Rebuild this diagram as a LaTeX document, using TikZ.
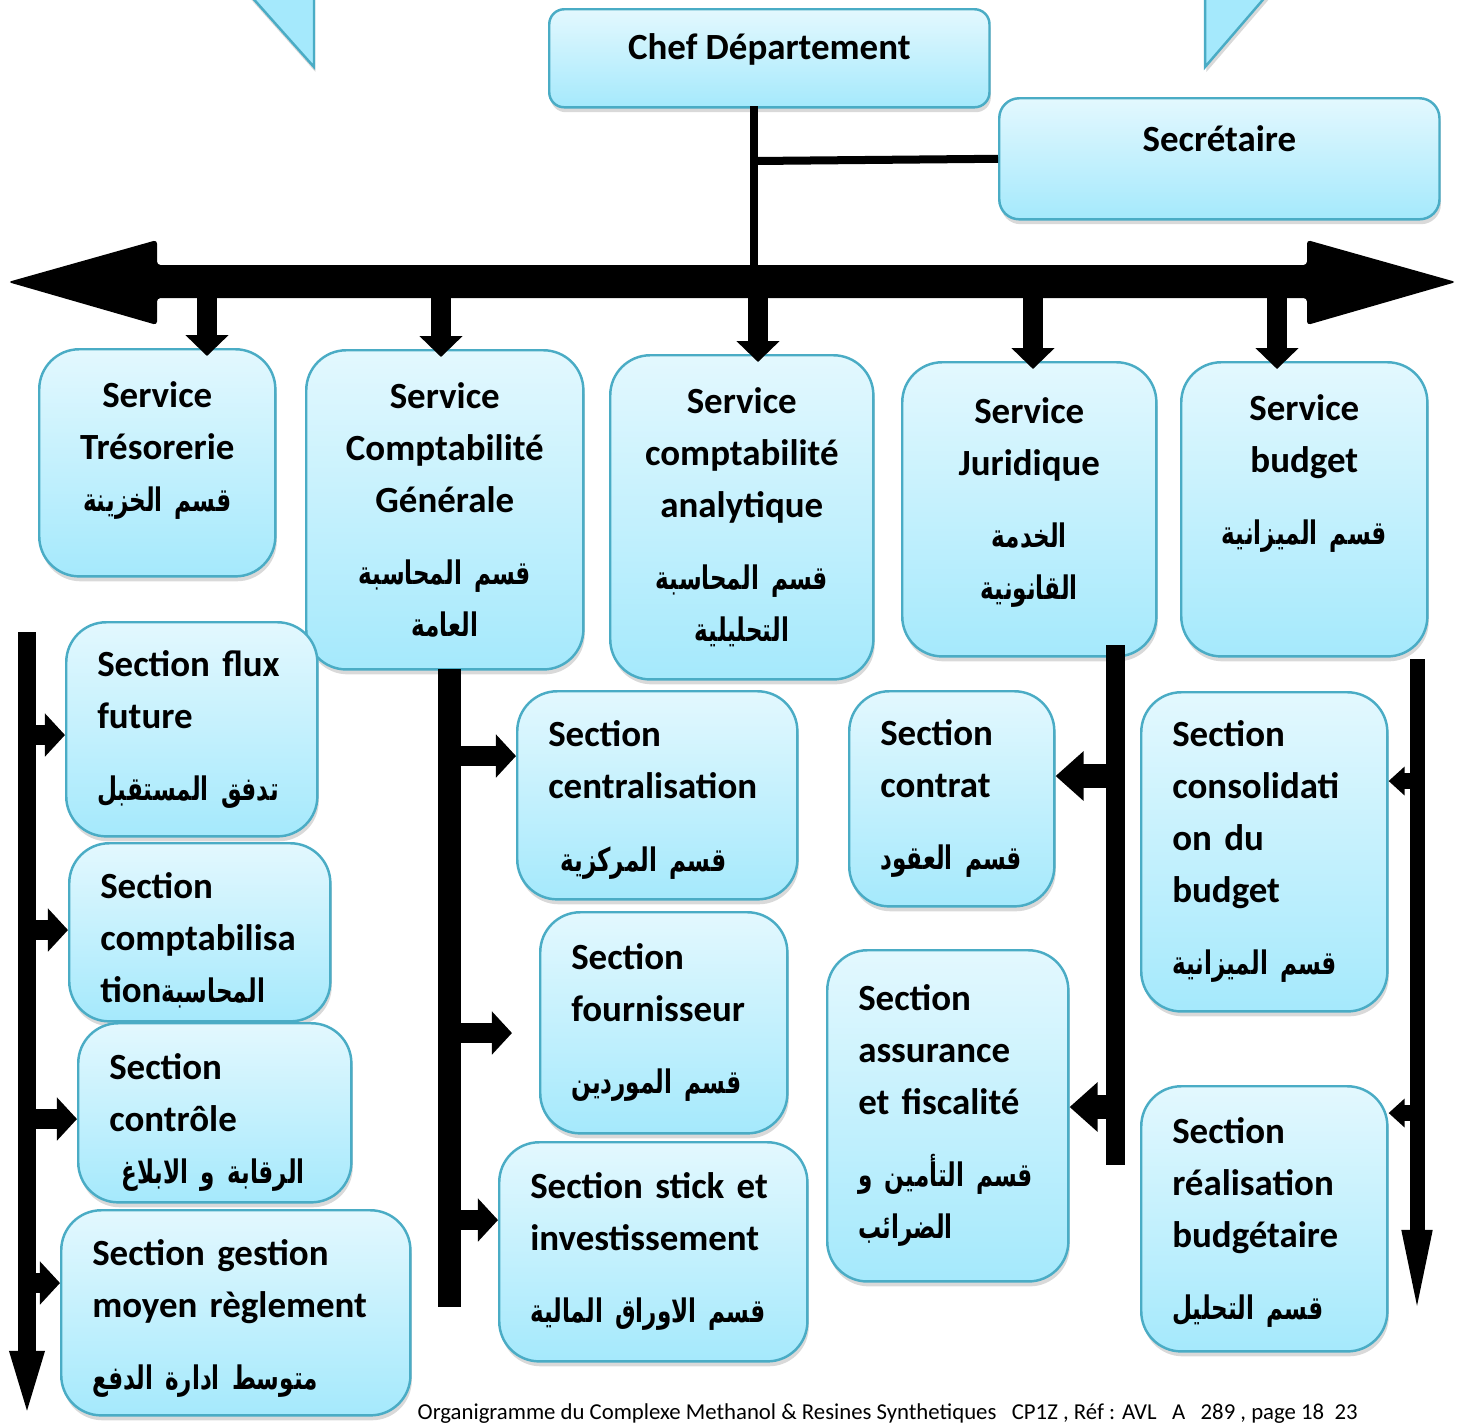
\documentclass[tikz,border=0pt]{standalone}
\usepackage{fontspec}
\setmainfont{Carlito}
\newfontfamily\arabicfont[Script=Arabic, Scale=0.88, FakeStretch=0.71]{DejaVu Sans}
\TeXXeTstate=1
\usetikzlibrary{arrows.meta,shadows,positioning}
\definecolor{boxtop}{RGB}{227,248,254}
\definecolor{boxbot}{RGB}{165,233,252}
\definecolor{boxline}{RGB}{74,172,197}
\newcommand{\ar}[1]{{\arabicfont\beginR #1\endR}}
\newcommand{\lift}[1]{\rule[-#1]{0pt}{0pt}}
\newcommand{\sink}[1]{\rule{0pt}{#1}}

\begin{document}
\begin{tikzpicture}[x=0.01cm, y=-0.01cm]
      \tikzstyle{unit}=[rectangle, rounded corners=0.4cm, draw=boxline, line width=0.7pt, top color=boxtop, bottom color=boxbot, drop shadow={shadow xshift=0.4pt, shadow yshift=-1.4pt, opacity=0.3}, anchor=north west, inner ysep=0.05cm, font=\fontsize{10.5}{14.8}\selectfont\bfseries]
      \tikzstyle{service}=[unit, inner xsep=0.05cm, align=center]
      \tikzstyle{section}=[unit, inner xsep=0.31cm, align=left]
      \tikzstyle{flag}=[fill=boxbot, draw=boxline, line width=0.7pt, drop shadow={shadow xshift=0.4pt, shadow yshift=-1.4pt, opacity=0.3}]
      \tikzstyle{link}=[line width=0.08cm]
      \tikzstyle{drop}=[line width=0.2cm, -{Triangle[width=0.42cm,length=0.21cm]}, shorten >=-0.08cm]
      \tikzstyle{feed}=[line width=0.2cm, -{Triangle[width=0.42cm,length=0.2cm]}]
      \tikzstyle{feedj}=[line width=0.24cm, -{Triangle[width=0.48cm,length=0.28cm]}]
      \tikzstyle{feedb}=[line width=0.16cm, -{Triangle[width=0.28cm,length=0.16cm]}]

      \useasboundingbox (0,0) rectangle (1467,1423);

      % top corners
      \filldraw[flag] (250,-5) -- (314,67) -- (314,-5) -- cycle;
      \filldraw[flag] (1267,-5) -- (1205,67) -- (1205,-5) -- cycle;

      % head
      \node[unit, rounded corners=0.15cm, minimum width=4.4cm, minimum height=0.98cm, align=center] (chef) at (548,8) {Chef Département\lift{6.5pt}};
      \node[unit, rounded corners=0.2cm, minimum width=4.4cm, minimum height=1.21cm, align=center] (sec) at (998,97) {Secrétaire\lift{11.4pt}};

      % main bar
      \fill[rounded corners=1pt] (8,282) -- (157,240) -- (157,265) -- (1307,265) -- (1307,240) -- (1456,282)
            -- (1307,325) -- (1307,298) -- (157,298) -- (157,325) -- cycle;
      \coordinate (stem) at (754,106);
      \coordinate (bar) at (754,266);
      \coordinate (tee) at (754,161);
      \draw[link] (stem) -- (bar);
      \draw[link] (tee) -- (sec.west);

      % services
      \node[service, text width=2.26cm, minimum width=2.36cm, minimum height=2.27cm] (tres) at (38,348)
            {Service\\Trésorerie\\\ar{قسم الخزينة}\lift{9pt}};
      \node[service, text width=2.67cm, minimum width=2.77cm, minimum height=3.19cm] (compg) at (305,349)
            {Service\\Comptabilité\\Générale\\[5.7pt]\ar{قسم المحاسبة}\\\ar{العامة}};
      \node[service, text width=2.53cm, minimum width=2.63cm, minimum height=3.24cm] (compa) at (609,354)
            {Service\\comptabilité\\analytique\\[5.7pt]\ar{قسم المحاسبة}\\\ar{التحليلية}};
      \node[service, text width=2.44cm, minimum width=2.54cm, minimum height=2.94cm] (jur) at (901,361)
            {Service\\Juridique\\[5.7pt]\ar{الخدمة}\\\ar{القانونية}\lift{6.3pt}};
      \node[service, text width=2.36cm, minimum width=2.46cm, minimum height=2.94cm] (budg) at (1180,361)
            {Service\\budget\\[5.7pt]\ar{قسم الميزانية}\lift{22.5pt}};

      \foreach \name/\x in {tres/207, compg/441, compa/758, jur/1033, budg/1277} {
            \coordinate (d-\name) at (\x,290);
            \draw[drop] (d-\name) -- (d-\name |- \name.north);
      }

      % left column
      \node[section, text width=1.89cm, minimum width=2.51cm, minimum height=2.14cm] (flux) at (65,621)
            {Section flux\\future\\[5.7pt]\ar{تدفق المستقبل}};
      \node[section, text width=1.99cm, minimum width=2.61cm, minimum height=1.78cm] (cptb) at (68,842)
            {\sink{12pt}Section\\comptabilisa\\tion\ar{المحاسبة}};
      \node[section, text width=2.11cm, minimum width=2.73cm, minimum height=1.79cm] (ctrl) at (77,1022)
            {\sink{13pt}Section\\contrôle\\\ \ar{الرقابة و الابلاغ}};
      \node[section, text width=2.87cm, minimum width=3.49cm, minimum height=2.05cm] (gest) at (60,1209)
            {\sink{10.5pt}Section gestion\\moyen règlement\\[5.7pt]\ar{متوسط ادارة الدفع}};

      \draw[line width=0.17cm, -{Triangle[width=0.29cm,length=0.75cm]}] (27,632) -- (27,1426);
      \coordinate (l1) at (27,735);
      \coordinate (l2) at (27,930);
      \coordinate (l3) at (27,1119);
      \coordinate (l4) at (27,1283);
      \draw[feed] (l1) -- (l1 -| flux.west);
      \draw[feed] (l2) -- (l2 -| cptb.west);
      \draw[feed] (l3) -- (l3 -| ctrl.west);
      \draw[feed] (l4) -- (l4 -| gest.west);

      % middle column
      \node[section, text width=2.18cm, minimum width=2.8cm, minimum height=2.08cm] (cent) at (516,690)
            {\sink{10pt}Section\\centralisation\\[5.7pt]\ \ar{قسم المركزية}};
      \node[section, text width=1.85cm, minimum width=2.47cm, minimum height=2.21cm] (four) at (539,911)
            {Section\\fournisseur\\[5.7pt]\ar{قسم الموردين}};
      \node[section, text width=2.46cm, minimum width=3.08cm, minimum height=2.19cm] (stick) at (498,1141)
            {Section stick et\\investissement\\[5.7pt]\ar{قسم الاوراق المالية}};

      \draw[line width=0.23cm] (449,669) -- (449,1307);
      \coordinate (m1) at (449,756);
      \coordinate (m2) at (449,1033);
      \coordinate (m3) at (449,1220);
      \draw[feed] (m1) -- (m1 -| cent.west);
      \draw[feed, shorten >=0.27cm] (m2) -- (m2 -| four.west);
      \draw[feed] (m3) -- (m3 -| stick.west);

      % juridique column
      \node[section, text width=1.43cm, minimum width=2.05cm, minimum height=2.15cm] (contr) at (848,690)
            {Section\\contrat\\[5.7pt]\ar{قسم العقود}};
      \node[section, text width=1.79cm, minimum width=2.41cm, minimum height=3.31cm] (assur) at (826,949)
            {Section\\assurance\\et fiscalité\\[5.7pt]\ar{قسم التأمين و}\\\ar{الضرائب}};

      \draw[line width=0.19cm] (1115,645) -- (1115,1165);
      \coordinate (j1) at (1115,776);
      \coordinate (j2) at (1115,1107);
      \draw[feedj] (j1) -- (j1 -| contr.east);
      \draw[feedj] (j2) -- (j2 -| assur.east);

      % budget column
      \node[section, text width=1.84cm, minimum width=2.46cm, minimum height=3.19cm] (conso) at (1140,691)
            {Section\\consolidati\\on du\\budget\\[5.7pt]\ar{قسم الميزانية}};
      \node[section, text width=1.84cm, minimum width=2.46cm, minimum height=2.65cm] (real) at (1140,1085)
            {\sink{9.5pt}Section\\réalisation\\budgétaire\\[5.7pt]\ar{قسم التحليل}};

      \draw[line width=0.15cm, -{Triangle[width=0.26cm,length=0.93cm]}] (1417,659) -- (1417,1323);
      \coordinate (b1) at (1424,781);
      \coordinate (b2) at (1424,1113);
      \draw[feedb] (b1) -- (b1 -| conso.east);
      \draw[feedb] (b2) -- (b2 -| real.east);

      \node[anchor=base west, inner sep=0pt, font=\fontsize{6.47}{8}\selectfont] (foot) at (417,1419)
            {Organigramme du Complexe Methanol \& Resines Synthetiques\ \ \ CP1Z , Réf : AVL\ \ \ A\ \ \ 289 , page 18\ \ 23};
    \end{tikzpicture}
\end{document}
